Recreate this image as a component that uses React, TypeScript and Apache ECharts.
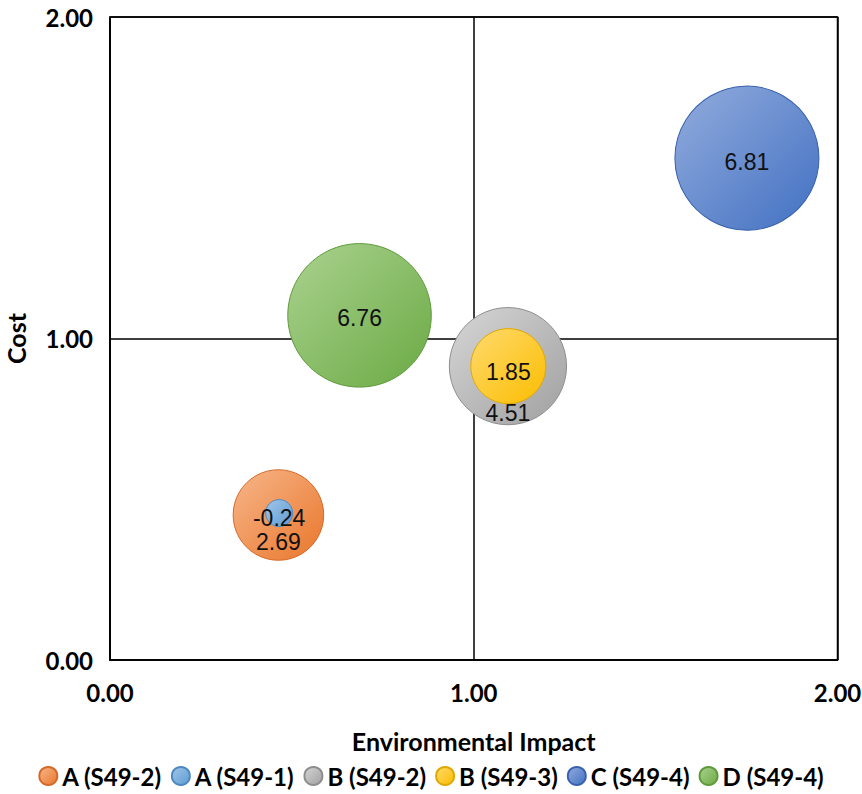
import React, { useEffect, useRef } from "react";
import * as echarts from "echarts";

// Bubble series: names, coordinates and bubble values
const seriesNames = ["A (S49-2)", "A (S49-1)", "B (S49-2)", "B (S49-3)", "C (S49-4)", "D (S49-4)"];
const envImpact = [0.463, 0.465, 1.094, 1.095, 1.751, 0.686];
const cost = [0.451, 0.457, 0.914, 0.914, 1.561, 1.072];
const bubbleValues = [2.69, -0.24, 4.51, 1.85, 6.81, 6.76];
const axisTicks = [0, 1, 2];

// Light (top-left) and base (bottom-right) colour per series
const lightColors = ["#F7B68A", "#A3C6E8", "#D6D6D6", "#FFDA6E", "#93ACDD", "#AAD28F"];
const baseColors = ["#E9762B", "#5B9BD5", "#A0A0A0", "#FBBD00", "#4170C2", "#6BAA44"];
const borderColors = ["#D5692A", "#4F89BF", "#8E8E8E", "#E0A800", "#3A63AE", "#5F9A3C"];
// Label vertical nudges, in pixels
const labelOffsets = [27, 5, 47, 6, 4, 3];

const bubbleScale = 55.2;
const uiFont = "Lato";

export default function App() {
  const ref = useRef<HTMLDivElement>(null);

  useEffect(() => {
    if (!ref.current) return;
    const chart = echarts.init(ref.current, null, { renderer: "svg" });

    const series = seriesNames.map((name, i) => ({
      name,
      type: "scatter",
      data: [[envImpact[i], cost[i], bubbleValues[i]]],
      symbol: "circle",
      symbolSize: (val: number[]) => bubbleScale * Math.sqrt(Math.abs(val[2])),
      itemStyle: {
        color: new echarts.graphic.LinearGradient(0, 0, 1, 1, [
          { offset: 0, color: lightColors[i] },
          { offset: 1, color: baseColors[i] },
        ]),
        borderColor: borderColors[i],
        borderWidth: 1,
        opacity: 1,
      },
      label: {
        show: true,
        position: "inside",
        offset: [0, labelOffsets[i]],
        formatter: (p: any) => p.value[2].toFixed(2),
        fontFamily: "Liberation Sans, Arial, sans-serif",
        fontSize: 23,
        color: "#111111",
      },
      emphasis: { disabled: true },
      z: 2 + i,
    }));

    const tickFmt = (v: number) => (axisTicks.includes(v) ? v.toFixed(2) : "");

    chart.setOption({
      animation: false,
      backgroundColor: "#ffffff",
      grid: {
        left: 110,
        top: 17,
        right: 24.5,
        bottom: 134,
        containLabel: false,
        outerBoundsMode: "none",
        show: true,
        borderColor: "#000000",
        borderWidth: 1.5,
      },
      xAxis: {
        type: "value",
        min: 0,
        max: 2,
        interval: 1,
        name: "Environmental Impact",
        nameLocation: "middle",
        nameGap: 68,
        nameTextStyle: { fontFamily: uiFont, fontWeight: "bold", fontSize: 25, color: "#000" },
        axisLine: { show: true, lineStyle: { color: "#000", width: 1.5 } },
        axisTick: { show: false },
        splitLine: { show: true, lineStyle: { color: "#000", width: 1.5 } },
        axisLabel: {
          formatter: tickFmt,
          margin: 20,
          fontFamily: uiFont,
          fontWeight: "bold",
          fontSize: 24,
          color: "#000",
        },
      },
      yAxis: {
        type: "value",
        min: 0,
        max: 2,
        interval: 1,
        name: "Cost",
        nameLocation: "middle",
        nameGap: 82,
        nameTextStyle: { fontFamily: uiFont, fontWeight: "bold", fontSize: 25, color: "#000" },
        axisLine: { show: true, lineStyle: { color: "#000", width: 1.5 } },
        axisTick: { show: false },
        splitLine: { show: true, lineStyle: { color: "#000", width: 1.5 } },
        axisLabel: {
          formatter: tickFmt,
          margin: 17,
          fontFamily: uiFont,
          fontWeight: "bold",
          fontSize: 24,
          color: "#000",
        },
      },
      legend: {
        data: seriesNames,
        top: 764,
        left: "center",
        padding: 0,
        icon: "circle",
        itemWidth: 18,
        itemHeight: 18,
        itemGap: 9,
        textStyle: {
          fontFamily: uiFont,
          fontWeight: "bold",
          fontSize: 24,
          color: "#000",
        },
      },
      series,
    });

    return () => chart.dispose();
  }, []);

  return (
    <div
      ref={ref}
      style={{ position: "absolute", left: 0, top: 0, width: 862, height: 794 }}
    />
  );
}
